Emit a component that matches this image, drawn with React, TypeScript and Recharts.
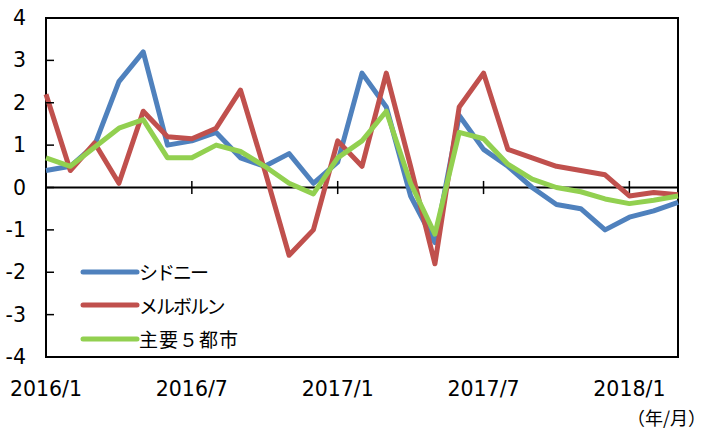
import React from "react";
import {
  LineChart,
  Line,
  XAxis,
  YAxis,
  ReferenceLine,
  ReferenceArea,
  Legend,
} from "recharts";

const months = [
  "2016/1", "2016/2", "2016/3", "2016/4", "2016/5", "2016/6", "2016/7", "2016/8", "2016/9",
  "2016/10", "2016/11", "2016/12", "2017/1", "2017/2", "2017/3", "2017/4", "2017/5", "2017/6",
  "2017/7", "2017/8", "2017/9", "2017/10", "2017/11", "2017/12", "2018/1", "2018/2", "2018/3",
];

const sydney = [
  0.4, 0.5, 1.0, 2.5, 3.2, 1.0, 1.1, 1.3, 0.7, 0.5, 0.8, 0.1, 0.6, 2.7, 1.9, -0.2, -1.3, 1.7,
  0.9, 0.5, 0.0, -0.4, -0.5, -1.0, -0.7, -0.55, -0.35,
];
const melbourne = [
  2.2, 0.4, 1.05, 0.1, 1.8, 1.2, 1.15, 1.4, 2.3, 0.4, -1.6, -1.0, 1.1, 0.5, 2.7, 0.5, -1.8, 1.9,
  2.7, 0.9, 0.7, 0.5, 0.4, 0.3, -0.2, -0.12, -0.17,
];
const fiveCities = [
  0.7, 0.5, 0.95, 1.4, 1.6, 0.7, 0.7, 1.0, 0.85, 0.5, 0.1, -0.15, 0.7, 1.1, 1.8, 0.1, -1.1, 1.3,
  1.15, 0.55, 0.2, 0.0, -0.1, -0.27, -0.38, -0.3, -0.2,
];

const yTicks = [-4, -3, -2, -1, 0, 1, 2, 3, 4];
const crossTicks = ["2016/7", "2017/1", "2017/7", "2018/1"];

const data = months.map((m, i) => ({
  month: m,
  sydney: sydney[i],
  melbourne: melbourne[i],
  five: fiveCities[i],
}));

const DIGIT_FONT = "'DejaVu Sans', Verdana, sans-serif";
const JP_FONT = "'Noto Sans CJK JP', sans-serif";

const YTick = (props: any) => {
  const { x, y, payload } = props;
  return (
    <g>
      <line x1={x + 20} x2={x + 28} y1={y} y2={y} stroke="#000" strokeWidth={1.5} />
      <text
        x={x}
        y={y}
        textAnchor="end"
        dominantBaseline="central"
        fontFamily={DIGIT_FONT}
        fontSize={20.5}
        fill="#000"
      >
        {payload.value}
      </text>
    </g>
  );
};

const LegendBox = (props: any) => {
  const items = props.payload || [];
  return (
    <div style={{ fontFamily: JP_FONT, fontSize: 19, color: "#000" }}>
      {items.map((it: any) => (
        <div key={it.value} style={{ display: "flex", alignItems: "center", height: 33.5 }}>
          <svg width={60} height={10} style={{ display: "block" }}>
            <line x1={3} x2={57} y1={5} y2={5} stroke={it.color} strokeWidth={5} strokeLinecap="round" />
          </svg>
          <span style={{ marginLeft: -1, letterSpacing: it.value === "主要５都市" ? 1 : -2 }}>
            {it.value}
          </span>
        </div>
      ))}
    </div>
  );
};

export default function App() {
  return (
    <div style={{ position: "absolute", left: 0, top: 0, width: 706, height: 432, background: "#fff" }}>
      <LineChart
        width={706}
        height={432}
        data={data}
        margin={{ top: 18, right: 28, bottom: 0, left: 0 }}
      >
        <XAxis
          dataKey="month"
          interval={5}
          axisLine={false}
          tickLine={false}
          tickSize={0}
          tickMargin={24}
          height={75}
          tick={{ fontFamily: DIGIT_FONT, fontSize: 20.5, fill: "#000" }}
        />
        <YAxis
          domain={[-4, 4]}
          ticks={yTicks}
          width={46}
          axisLine={false}
          tickLine={false}
          tickSize={0}
          tickMargin={20}
          tick={<YTick />}
        />
        <ReferenceArea
          x1="2016/1"
          x2="2018/3"
          y1={-4}
          y2={4}
          fill="none"
          stroke="#000"
          strokeWidth={2}
          ifOverflow="visible"
        />
        <ReferenceLine y={0} stroke="#000" strokeWidth={2} />
        {crossTicks.map((m) => (
          <ReferenceLine
            key={m}
            segment={[
              { x: m, y: 0.155 },
              { x: m, y: -0.155 },
            ]}
            stroke="#000"
            strokeWidth={1.5}
          />
        ))}
        <Legend
          layout="vertical"
          align="center"
          verticalAlign="middle"
          content={<LegendBox />}
          wrapperStyle={{ left: 80, top: 255, width: 220 }}
        />
        <Line
          dataKey="sydney"
          name="シドニー"
          stroke="#4F81BD"
          strokeWidth={5}
          dot={false}
          strokeLinejoin="round"
          isAnimationActive={false}
        />
        <Line
          dataKey="melbourne"
          name="メルボルン"
          stroke="#C0504D"
          strokeWidth={5}
          dot={false}
          strokeLinejoin="round"
          isAnimationActive={false}
        />
        <Line
          dataKey="five"
          name="主要５都市"
          stroke="#92D050"
          strokeWidth={5}
          dot={false}
          strokeLinejoin="round"
          isAnimationActive={false}
        />
      </LineChart>
      <div
        style={{
          position: "absolute",
          right: 0,
          top: 404,
          fontFamily: JP_FONT,
          fontSize: 18,
          color: "#000",
          whiteSpace: "nowrap",
        }}
      >
        （年/月）
      </div>
    </div>
  );
}
